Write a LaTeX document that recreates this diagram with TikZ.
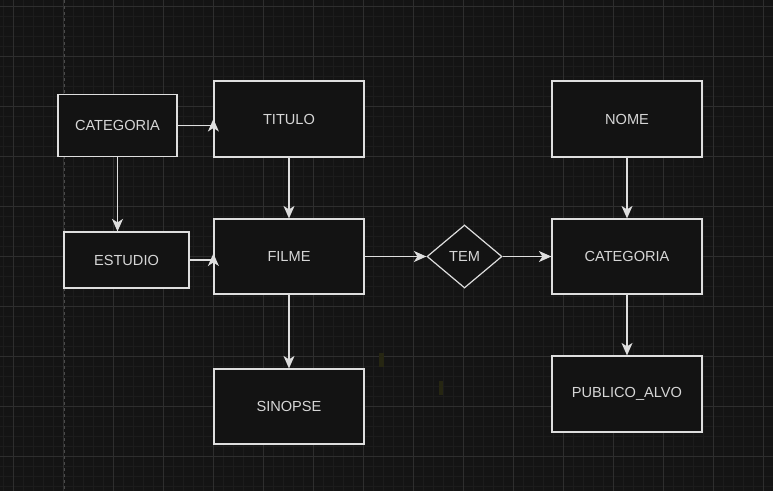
\documentclass[tikz,border=0pt]{standalone}
\usepackage{fontspec}
\setmainfont{Liberation Sans}
\usetikzlibrary{arrows.meta,shapes.geometric}
\definecolor{bgc}{HTML}{141414}
\definecolor{minorc}{HTML}{1C1C1C}
\definecolor{majorc}{HTML}{2E2E2E}
\definecolor{boxfill}{HTML}{131313}
\definecolor{linec}{HTML}{DEDEDE}
\definecolor{txtc}{HTML}{D6D6D6}
\definecolor{dashc}{HTML}{4A4A4A}
\definecolor{markc}{HTML}{262612}
\tikzset{
  ent/.style={draw=linec, line width=1.2pt, fill=boxfill, text=txtc, rectangle,
    inner sep=0pt, font=\fontsize{14.6}{17}\selectfont},
  rel/.style={draw=linec, line width=1.2pt, fill=boxfill, text=txtc, diamond,
    shape aspect=1.19, inner sep=0pt, minimum width=75pt, minimum height=63pt,
    font=\fontsize{14.6}{17}\selectfont},
  conn/.style={draw=linec, line width=1.2pt, -{Stealth[length=12.5pt,width=11pt,inset=3.5pt]}},
  plain/.style={draw=linec, line width=1.2pt},
}
\begin{document}
\begin{tikzpicture}[x=1pt,y=-1pt]
\useasboundingbox (0,0) rectangle (773,491);
\fill[bgc] (0,0) rectangle (773,491);
% grid
\foreach \x in {3,13,...,773} \draw[minorc, line width=0.8pt] (\x,0) -- (\x,491);
\foreach \y in {6,16,...,491} \draw[minorc, line width=0.8pt] (0,\y) -- (773,\y);
\foreach \x in {13,63,...,773} \draw[majorc, line width=0.9pt] (\x,0) -- (\x,491);
\foreach \y in {6,56,...,491} \draw[majorc, line width=0.9pt] (0,\y) -- (773,\y);
% dashed page line
\draw[dashc, line width=1pt, dash pattern=on 3pt off 3pt] (64,0) -- (64,491);
% faint marks
\fill[markc] (379,353) rectangle (384,367);
\fill[markc] (439,381) rectangle (443,395);
% nodes
\node[ent, minimum width=119pt, minimum height=62pt] (cat1) at (117.5,125.5) {CATEGORIA};
\node[ent, minimum width=150pt, minimum height=76pt] (titulo) at (289,119) {TITULO};
\node[ent, minimum width=125pt, minimum height=56pt] (estudio) at (126.5,260) {ESTUDIO};
\node[ent, minimum width=150pt, minimum height=75pt] (filme) at (289,256.5) {FILME};
\node[ent, minimum width=150pt, minimum height=75pt] (sinopse) at (289,406.5) {SINOPSE};
\node[rel] (tem) at (464.5,256.5) {TEM};
\node[ent, minimum width=150pt, minimum height=75pt] (cat2) at (627,256.5) {CATEGORIA};
\node[ent, minimum width=150pt, minimum height=76pt] (nome) at (627,119) {NOME};
\node[ent, minimum width=150pt, minimum height=76pt] (publico) at (627,394) {PUBLICO\_ALVO};
% connectors
\coordinate (c1) at (titulo.west |- cat1.east);
\coordinate (c1b) at ([yshift=-6pt]c1);
\coordinate (c1t) at ([yshift=6.5pt]c1);
\draw[plain] (cat1.east) -- (c1);
\draw[conn] (c1b) -- (c1t);
\coordinate (c2) at (filme.west |- estudio.east);
\coordinate (c2b) at ([yshift=-6pt]c2);
\coordinate (c2t) at ([yshift=6.5pt]c2);
\draw[plain] (estudio.east) -- (c2);
\draw[conn] (c2b) -- (c2t);
\draw[conn] (cat1.south) -- (cat1.south |- estudio.north);
\draw[conn] (titulo.south) -- (filme.north);
\draw[conn] (filme.south) -- (sinopse.north);
\draw[conn] (filme.east) -- (tem.west);
\draw[conn] (tem.east) -- (cat2.west);
\draw[conn] (nome.south) -- (cat2.north);
\draw[conn] (cat2.south) -- (publico.north);
\end{tikzpicture}
\end{document}
